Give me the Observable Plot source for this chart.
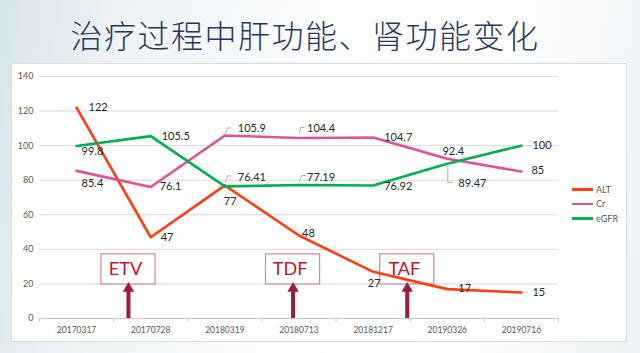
<!DOCTYPE html>
<html><head><meta charset="utf-8">
<script src="https://cdn.jsdelivr.net/npm/d3@7"></script>
<script src="https://cdn.jsdelivr.net/npm/@observablehq/plot@0.6"></script>
<style>
html,body{margin:0;padding:0;}
body{width:640px;height:353px;overflow:hidden;position:relative;
 background:linear-gradient(100deg,#d6e4ea 0%,#eef3f6 18%,#fbfcfd 45%,#ffffff 70%,#eef2f5 100%);
 font-family:Lato,"DejaVu Sans",sans-serif;}
#title{position:absolute;left:0;width:610px;top:11px;text-align:center;font-family:"Noto Sans CJK SC";
 font-size:32px;font-weight:300;color:#1f3864;letter-spacing:1.5px;white-space:nowrap;}
#box{position:absolute;left:11px;top:63px;width:614px;height:277px;background:#fff;border:1px solid #dcdcdc;}
#chart{position:absolute;left:0;top:0;}
#legend{position:absolute;left:560px;top:118px;font-size:9px;color:#595959;}
.li{display:flex;align-items:center;height:14.5px;}
.sw{width:21px;height:2.5px;margin-right:3px;}
</style></head>
<body>
<div id="title">治疗过程中肝功能、肾功能变化</div>
<div id="box"><div id="chart"></div><div id="legend"></div></div>
<script>
const dates = ["20170317","20170728","20180319","20180713","20181217","20190326","20190716"];
const altValues  = [122, 47, 77, 48, 27, 17, 15];
const crValues   = [85.4, 76.1, 105.9, 104.4, 104.7, 92.4, 85];
const egfrValues = [99.8, 105.5, 76.41, 77.19, 76.92, 89.47, 100];
const seriesNames = ["ALT", "Cr", "eGFR"];
const seriesColors = ["#ff3d0d", "#e2509a", "#00b050"];
const yTicks = [0, 20, 40, 60, 80, 100, 120, 140];
// treatment annotations: label and position in category-index units
const annotLabels = ["ETV", "TDF", "TAF"];
const annotPos = [0.70, 2.92, 4.46];

// label offsets (pixels) — layout only
const altOff  = [[12,0,"start"],[10,0,"start"],[-1,16,"start"],[3,-2,"start"],[1,12,"middle"],[11,-1,"start"],[11,0,"start"]];
const crOff   = [[5,13,"start"],[9,0,"start"],[13,-7,"start"],[8,-10,"start"],[11,0,"start"],[6,-7,"middle"],[10,-1,"start"]];
const egfrOff = [[5,5,"start"],[11,0,"start"],[13,-9,"start"],[8,-8,"start"],[11,1,"start"],[11,20,"start"],[11,0,"start"]];
// leader lines (pixel offsets from the point)
const leaders = [
  {s:1, i:2, pts:[[1,-1],[3,-7],[7,-7]]},
  {s:1, i:3, pts:[[1,-4],[2,-10],[6,-10]]},
  {s:2, i:2, pts:[[1,-3],[3,-10],[7,-10]]},
  {s:2, i:3, pts:[[1,-3],[3,-9],[7,-9]]},
  {s:2, i:5, pts:[[1,2],[1,19],[6,19]]}
];

const allValues = [altValues, crValues, egfrValues];
const allOff = [altOff, crOff, egfrOff];
const series = allValues.map((vals, s) => vals.map((v, i) => ({i, v, s: seriesNames[s]})));
const boundaries = d3.range(dates.length + 1).map(k => k - 0.5);

const labelMarks = [];
series.forEach((data, s) => {
  data.forEach((d, k) => {
    const [dx, dy, anchor] = allOff[s][k];
    labelMarks.push(Plot.text([d], {x: "i", y: "v", text: d => String(d.v), dx, dy, textAnchor: anchor,
      fontSize: 11, fill: "#262626"}));
  });
});

const leaderMark = (index, scales) => {
  const g = d3.create("svg:g");
  leaders.forEach(l => {
    const px = scales.x(l.i), py = scales.y(allValues[l.s][l.i]);
    g.append("path").attr("d", d3.line()(l.pts.map(([a, b]) => [px + a, py + b])))
      .attr("fill", "none").attr("stroke", "#a6a6a6").attr("stroke-width", 0.9);
  });
  return g.node();
};

const annot = annotLabels.map((t, k) => ({t, x: annotPos[k]}));
const boxHalf = 0.365;

const chart = Plot.plot({
  width: 614, height: 277,
  marginTop: 12, marginBottom: 23, marginLeft: 27, marginRight: 68,
  x: {domain: [-0.5, dates.length - 0.5], axis: null},
  y: {domain: [0, 140], axis: null},
  style: {fontFamily: "Lato, 'DejaVu Sans', sans-serif", background: "transparent", overflow: "visible"},
  marks: [
    Plot.gridY(yTicks, {stroke: "#d9d9d9", strokeOpacity: 1}),
    Plot.axisY(yTicks, {tickSize: 0, tickPadding: 6, fontSize: 9, color: "#595959", label: null}),
    Plot.ruleY([0], {stroke: "#c8c8c8"}),
    Plot.axisX(boundaries, {tickSize: 4, tickFormat: () => "", stroke: "#c8c8c8", strokeOpacity: 1, label: null}),
    Plot.axisX(d3.range(dates.length), {tickSize: 0, tickPadding: 8, tickFormat: i => dates[i], fontSize: 8.5, color: "#595959", label: null}),
    Plot.rect(annot, {x1: d => d.x - boxHalf, x2: d => d.x + boxHalf, y1: 19.7, y2: 37.1, fill: "#fff", stroke: "#d4849a", strokeWidth: 1.2}),
    Plot.text(annot, {x: "x", y: 28.4, text: "t", fontSize: 18, fill: "#c8102e", dx: -3}),
    Plot.ruleX(annot, {x: "x", y1: 0, y2: 16, stroke: "#9b1b3a", strokeWidth: 4}),
    Plot.dot(annot, {x: "x", y: 17.3, symbol: "triangle", r: 4.2, fill: "#9b1b3a"}),
    ...series.map((data, s) => Plot.line(data, {x: "i", y: "v", stroke: seriesColors[s], strokeWidth: 2.6})),
    leaderMark,
    ...labelMarks
  ]
});
document.getElementById("chart").appendChild(chart);

const legend = document.getElementById("legend");
seriesNames.forEach((n, s) => {
  const row = document.createElement("div"); row.className = "li";
  row.innerHTML = `<span class="sw" style="background:${seriesColors[s]}"></span><span>${n}</span>`;
  legend.appendChild(row);
});
</script>
</body></html>
